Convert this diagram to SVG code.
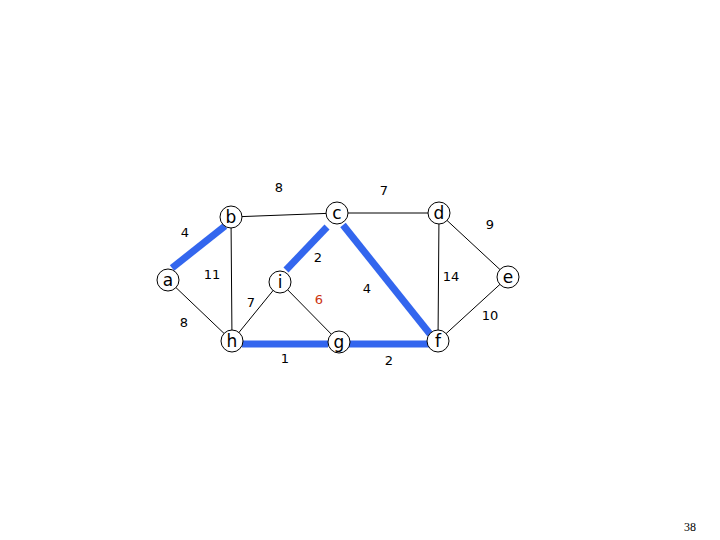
<svg xmlns="http://www.w3.org/2000/svg" width="720" height="540" viewBox="0 0 720 540">
<style>
.thin{stroke:#000;stroke-width:1;fill:none}
.thick{stroke:#3366ee;stroke-width:7;fill:none}
.n circle{fill:#fff;stroke:#000;stroke-width:1}
.n text{font-family:"DejaVu Sans",sans-serif;font-size:17px;text-anchor:middle}
.w{font-family:"DejaVu Sans",sans-serif;font-size:13px;text-anchor:middle}
</style>
<rect width="720" height="540" fill="#fff"/>
<g id="connectors">
<line class="thin" x1="231" y1="217" x2="337" y2="213"/>
<line class="thin" x1="337" y1="213" x2="439" y2="213"/>
<line class="thin" x1="439" y1="213" x2="508" y2="277"/>
<line class="thin" x1="508" y1="277" x2="438" y2="341"/>
<line class="thin" x1="439" y1="213" x2="438" y2="341"/>
<line class="thin" x1="231" y1="217" x2="232" y2="341"/>
<line class="thin" x1="168" y1="280" x2="232" y2="341"/>
<line class="thin" x1="232" y1="341" x2="280" y2="282"/>
<line class="thin" x1="280" y1="282" x2="339" y2="342"/>
<line class="thick" x1="172" y1="268" x2="225" y2="226"/>
<line class="thick" x1="327" y1="227" x2="286" y2="270"/>
<line class="thick" x1="343" y1="225" x2="430" y2="334"/>
<line class="thick" x1="242" y1="344" x2="328" y2="344"/>
<line class="thick" x1="347" y1="344" x2="430" y2="344"/>
</g>
<g id="a" class="n"><circle cx="168" cy="280" r="11"/><text x="168" y="286">a</text></g>
<g id="b" class="n"><circle cx="231" cy="217" r="11"/><text x="231" y="223">b</text></g>
<g id="c" class="n"><circle cx="337" cy="213" r="11"/><text x="337" y="219">c</text></g>
<g id="d" class="n"><circle cx="439" cy="213" r="11"/><text x="439" y="219">d</text></g>
<g id="e" class="n"><circle cx="508" cy="277" r="11"/><text x="508" y="283">e</text></g>
<g id="f" class="n"><circle cx="438" cy="341" r="11"/><text x="438" y="347">f</text></g>
<g id="g" class="n"><circle cx="339" cy="342" r="11"/><text x="339" y="348">g</text></g>
<g id="h" class="n"><circle cx="232" cy="341" r="11"/><text x="232" y="347">h</text></g>
<g id="i" class="n"><circle cx="280" cy="282" r="11"/><text x="280" y="288">i</text></g>
<g id="labels">
<text class="w" x="279" y="192">8</text>
<text class="w" x="384" y="195">7</text>
<text class="w" x="490" y="229">9</text>
<text class="w" x="185" y="237">4</text>
<text class="w" x="318" y="262">2</text>
<text class="w" x="212" y="279">11</text>
<text class="w" x="451" y="281">14</text>
<text class="w" x="367" y="293">4</text>
<text class="w" x="319" y="304" fill="#cc3311" font-size="15">6</text>
<text class="w" x="251" y="307">7</text>
<text class="w" x="184" y="327">8</text>
<text class="w" x="490" y="320">10</text>
<text class="w" x="285" y="363">1</text>
<text class="w" x="389" y="365">2</text>
<text x="690" y="531" font-family="Liberation Serif,serif" font-size="12" text-anchor="middle">38</text>
</g>
</svg>
